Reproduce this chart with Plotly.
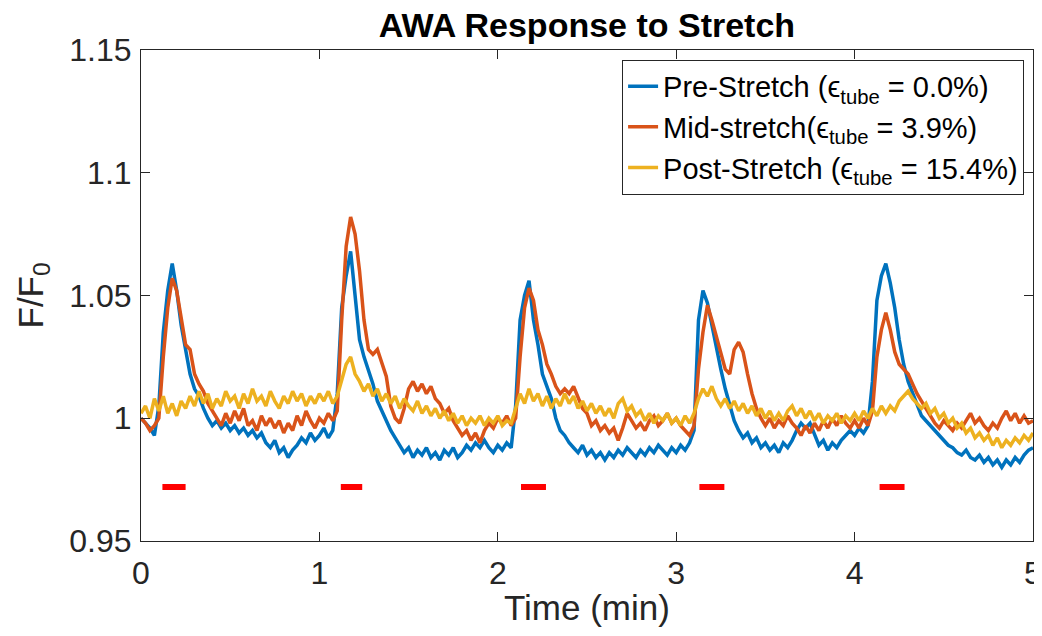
import plotly.graph_objects as go

# ---- data ----
time_min = [round(i * 0.025, 3) for i in range(201)]

pre_stretch = [
    1.000, 0.998, 0.996, 0.993, 1.005, 1.035, 1.052, 1.063,
    1.052, 1.038, 1.028, 1.018, 1.012, 1.009, 1.004, 1.000,
    0.997, 0.999, 0.996, 0.998, 0.995, 0.997, 0.994, 0.996,
    0.993, 0.995, 0.992, 0.994, 0.990, 0.988, 0.991, 0.986,
    0.988, 0.984, 0.987, 0.989, 0.992, 0.990, 0.994, 0.991,
    0.993, 0.996, 0.992, 0.995, 1.010, 1.045, 1.058, 1.068,
    1.050, 1.032, 1.025, 1.020, 1.014, 1.007, 1.003, 0.999,
    0.995, 0.992, 0.989, 0.986, 0.988, 0.984, 0.987, 0.985,
    0.988, 0.984, 0.986, 0.983, 0.987, 0.985, 0.988, 0.984,
    0.986, 0.989, 0.987, 0.990, 0.988, 0.991, 0.988, 0.986,
    0.989, 0.987, 0.990, 0.988, 1.005, 1.040, 1.050, 1.056,
    1.040, 1.030, 1.018, 1.013, 1.008, 1.000, 0.995, 0.993,
    0.990, 0.988, 0.986, 0.989, 0.985, 0.987, 0.984, 0.986,
    0.983, 0.986, 0.984, 0.987, 0.985, 0.988, 0.986, 0.984,
    0.987, 0.985, 0.988, 0.986, 0.989, 0.987, 0.985, 0.988,
    0.986, 0.989, 0.987, 0.990, 0.995, 1.040, 1.052, 1.047,
    1.038, 1.028, 1.020, 1.012, 1.005, 0.999, 0.995, 0.992,
    0.994, 0.990, 0.992, 0.988, 0.990, 0.987, 0.989, 0.986,
    0.990, 0.988, 0.991, 0.995, 0.998, 0.996, 0.998, 0.993,
    0.989, 0.991, 0.987, 0.990, 0.988, 0.991, 0.993, 0.995,
    0.993, 0.996, 0.994, 0.997, 1.015, 1.048, 1.058, 1.063,
    1.055, 1.045, 1.032, 1.022, 1.015, 1.010, 1.005, 1.001,
    0.999, 0.997, 0.995, 0.993, 0.991, 0.989, 0.988, 0.986,
    0.985, 0.987, 0.984, 0.983, 0.985, 0.982, 0.984, 0.981,
    0.983, 0.980, 0.983, 0.981, 0.984, 0.982, 0.985, 0.987,
    0.988,
]

mid_stretch = [
    1.000, 0.998, 0.995, 0.997, 1.000, 1.025, 1.045, 1.057,
    1.052, 1.040, 1.030, 1.028, 1.018, 1.014, 1.011, 1.006,
    1.003, 1.000, 0.997, 1.002, 0.998, 1.003, 0.999, 1.004,
    0.997, 0.999, 0.995, 1.001, 0.997, 1.000, 0.996, 0.999,
    0.994, 0.998, 0.995, 1.001, 0.997, 1.003, 0.999, 0.996,
    1.000, 0.998, 1.002, 0.999, 1.003, 1.040, 1.070, 1.082,
    1.075, 1.060, 1.040, 1.028, 1.026, 1.028, 1.022, 1.017,
    1.005, 1.000, 0.998, 1.004, 1.012, 1.015, 1.011, 1.014,
    1.010, 1.013, 1.008, 1.006, 1.002, 1.004, 0.999, 0.996,
    0.993, 0.995, 0.991, 0.994, 0.990, 0.995, 0.998, 0.996,
    1.000, 0.998, 1.001, 0.997, 1.000, 1.025, 1.045, 1.053,
    1.048, 1.036, 1.030, 1.022, 1.018, 1.013, 1.010, 1.012,
    1.010, 1.013, 1.008, 1.004, 1.002, 0.997, 0.999, 0.995,
    0.997, 0.994, 0.996, 0.991, 0.996, 1.002, 0.999, 0.996,
    0.998, 0.995, 0.999, 1.001, 0.997, 0.999, 1.002, 0.998,
    1.000, 0.997, 0.995, 0.993, 0.997, 1.020, 1.035, 1.046,
    1.040, 1.033, 1.026, 1.020, 1.018, 1.028, 1.031, 1.027,
    1.018, 1.010, 1.004, 1.000, 0.997, 1.000, 0.996, 0.999,
    0.997, 1.001, 0.998, 0.996, 0.993, 0.997, 0.994, 0.998,
    0.995, 0.999, 0.996, 1.000, 0.997, 1.001, 0.998, 0.996,
    0.999, 0.996, 1.000, 0.997, 1.003, 1.025, 1.036, 1.043,
    1.036, 1.027, 1.022, 1.020, 1.018, 1.014, 1.010, 1.007,
    1.004, 1.001, 0.998, 0.996, 0.999, 0.997, 0.995, 0.998,
    0.996, 0.999, 1.002, 0.998, 1.000, 0.997, 0.995, 0.998,
    0.996, 1.000, 1.003, 0.999, 1.002, 0.998, 1.001, 0.998,
    0.999,
]

post_stretch = [
    1.002, 1.005, 1.000, 1.008, 1.003, 1.009, 1.002, 1.006,
    1.001, 1.007, 1.004, 1.009, 1.005, 1.011, 1.006, 1.010,
    1.004, 1.008, 1.005, 1.011, 1.007, 1.009, 1.004, 1.010,
    1.006, 1.012, 1.007, 1.009, 1.005, 1.011, 1.007, 1.004,
    1.009, 1.006, 1.011, 1.007, 1.010, 1.005, 1.009, 1.006,
    1.010, 1.007, 1.011, 1.006, 1.009, 1.015, 1.022, 1.025,
    1.018, 1.015, 1.011, 1.014, 1.009, 1.012, 1.007, 1.010,
    1.006, 1.009, 1.004, 1.008, 1.005, 1.003, 1.007, 1.002,
    1.005, 1.001, 1.004, 1.000, 1.003, 0.999, 1.002, 0.998,
    1.001, 0.997, 1.000, 0.998, 1.001, 0.997, 1.000, 0.998,
    1.001, 0.997, 0.999, 0.998, 1.004, 1.010, 1.006, 1.012,
    1.007, 1.010, 1.005, 1.009, 1.004, 1.008, 1.005, 1.010,
    1.006, 1.009, 1.004, 1.007, 1.003, 1.006, 1.002, 1.005,
    1.001, 1.004, 1.000, 1.006, 1.008, 1.003, 1.005, 1.001,
    1.003, 0.999, 1.002, 0.998, 1.001, 0.999, 1.002, 0.998,
    1.000, 0.997, 1.001, 0.998, 1.002, 1.008, 1.012, 1.009,
    1.013, 1.008, 1.005, 1.008, 1.004, 1.007, 1.003, 1.006,
    1.002, 1.005, 1.001, 1.004, 1.000, 1.003, 0.999, 1.002,
    0.999, 1.003, 1.005, 1.001, 1.004, 1.000, 1.003, 0.999,
    1.002, 0.998, 1.001, 0.999, 1.002, 0.998, 1.001, 0.999,
    1.002, 0.999, 1.003, 1.000, 1.004, 1.001, 1.005, 1.002,
    1.005, 1.003, 1.007, 1.009, 1.011, 1.008, 1.006, 1.004,
    1.006, 1.002, 1.004, 1.000, 1.002, 0.998, 1.000, 0.996,
    0.998, 0.994, 0.996, 0.992, 0.994, 0.991, 0.993, 0.989,
    0.992, 0.988, 0.991, 0.989, 0.992, 0.990, 0.993, 0.991,
    0.994,
]

stim_start = [0.12, 1.12, 2.13, 3.13, 4.14]
stim_end = [0.25, 1.24, 2.27, 3.27, 4.28]
stim_level = 0.972

series_names = [
    "Pre-Stretch (ϵ<sub>tube</sub> = 0.0%)",
    "Mid-stretch(ϵ<sub>tube</sub> = 3.9%)",
    "Post-Stretch (ϵ<sub>tube</sub> = 15.4%)",
]
series_colors = ["#0072BD", "#D95319", "#EDB120"]

x_ticks = [0, 1, 2, 3, 4, 5]
y_ticks = [0.95, 1.0, 1.05, 1.1, 1.15]
y_tick_text = ["0.95", "1", "1.05", "1.1", "1.15"]

FONT = "Arial, 'Liberation Sans', Helvetica, sans-serif"
AX = "#262626"

# page body adds an 8px offset; figure sized to fit the window from there
FIG_W, FIG_H = 1034, 620

fig = go.Figure()
for name, ys, col in zip(series_names, [pre_stretch, mid_stretch, post_stretch], series_colors):
    fig.add_trace(go.Scatter(x=time_min, y=ys, mode="lines", name=name,
                             line=dict(color=col, width=3.5)))

# stimulus markers
sx, sy = [], []
for a, b in zip(stim_start, stim_end):
    sx += [a, b, None]
    sy += [stim_level, stim_level, None]
fig.add_trace(go.Scatter(x=sx, y=sy, mode="lines", showlegend=False,
                         line=dict(color="#FF0000", width=6)))

fig.update_layout(
    width=FIG_W, height=FIG_H,
    margin=dict(l=133, r=9, t=42, b=87, autoexpand=False),
    paper_bgcolor="white", plot_bgcolor="white",
    font=dict(family=FONT, color=AX),
    title=dict(text="<b>AWA Response to Stretch</b>", x=0.5, xref="paper",
               xanchor="center",
               y=1 - 17 / FIG_H, yref="container", yanchor="middle",
               font=dict(size=34, color="#000000")),
    legend=dict(x=0.99, y=0.98, xanchor="right", yanchor="top",
                bgcolor="white", bordercolor="#262626", borderwidth=1,
                font=dict(size=29, color="#000000"), tracegroupgap=0,
                itemwidth=30),
    showlegend=True,
)

fig.update_xaxes(range=[0, 5], tickvals=x_ticks, ticks="inside", ticklen=9,
                 tickcolor=AX, showline=True, linecolor=AX, linewidth=1,
                 mirror="ticks", showgrid=False, zeroline=False,
                 automargin=False, ticklabeloverflow="allow",
                 tickfont=dict(size=32, color=AX), ticklabelstandoff=4)
fig.update_yaxes(range=[0.95, 1.15], tickvals=y_ticks, ticktext=y_tick_text,
                 ticks="inside", ticklen=9, tickcolor=AX, showline=True,
                 linecolor=AX, linewidth=1, mirror="ticks", showgrid=False,
                 zeroline=False, automargin=False, ticklabeloverflow="allow",
                 tickfont=dict(size=32, color=AX),
                 ticklabelstandoff=2)

fig.add_annotation(text="Time (min)", x=0.5, y=(541 - 607) / 491, xref="paper",
                   yref="paper", showarrow=False, xanchor="center", yanchor="middle",
                   font=dict(size=35, color=AX))
fig.add_annotation(text="F/F<sub>0</sub>", x=(32 - 141) / 892, y=0.5, xref="paper",
                   yref="paper", showarrow=False, textangle=-90,
                   xanchor="center", yanchor="middle",
                   font=dict(size=35, color=AX))

fig.write_html("out.html")
